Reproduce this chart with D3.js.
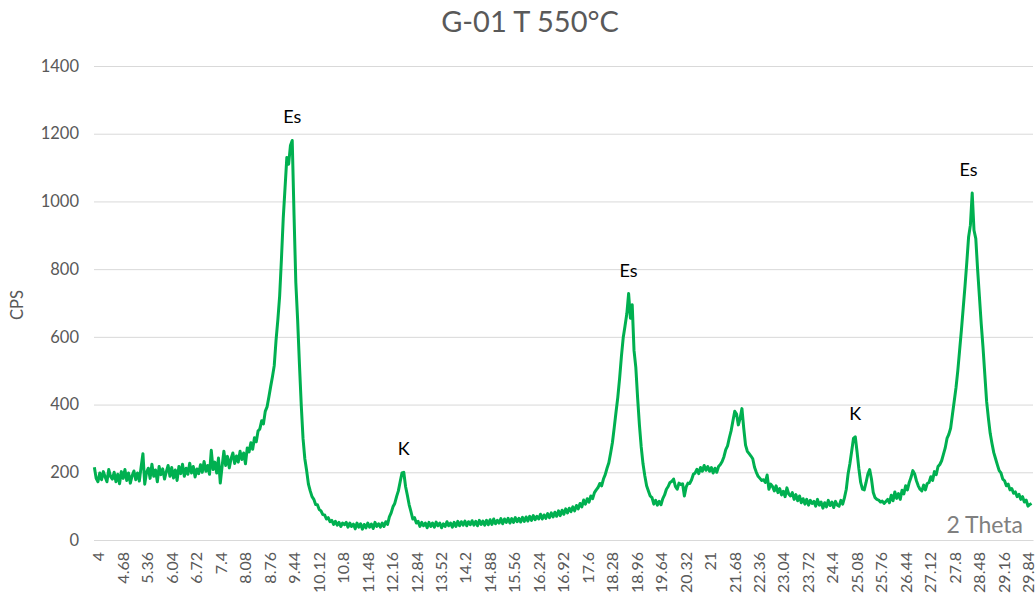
<!DOCTYPE html>
<html>
<head>
<meta charset="utf-8">
<script src="https://cdn.jsdelivr.net/npm/d3@7"></script>
<style>
  html, body { margin: 0; padding: 0; background: #fff; }
  svg { display: block; }
  text { font-family: Lato, "Open Sans", sans-serif; }
</style>
</head>
<body>
<svg id="chart" width="1036" height="599"></svg>
<script>
// Diffraction pattern of sample G-01 fired at 550 °C, sampled every 0.05° 2θ from 4°.
const thetaStart = 4.0;
const thetaStep = 0.05;

const cps = [
  // 4.00 – 4.95
  215,182,172,198,178,202,186,172,208,188,180,200,172,194,166,202,182,208,176,198,
  // 5.00 – 5.95
  168,190,204,178,198,174,216,255,165,200,212,182,224,188,207,172,217,193,210,180,
  // 6.00 – 6.95
  202,220,188,214,183,207,176,217,196,224,188,212,194,227,198,217,186,210,196,222,
  // 7.00 – 7.95
  200,232,203,220,194,265,208,230,198,242,168,217,262,220,247,213,240,257,226,248,
  // 8.00 – 8.95
  230,262,238,257,225,272,260,287,268,302,290,322,328,352,343,380,393,422,453,482,
  // 9.00 – 9.95
  515,590,650,720,830,950,1040,1130,1110,1165,1180,960,760,650,520,400,300,240,205,165,
  // 10.00 – 10.95
  145,128,120,105,104,90,86,75,74,62,66,54,58,46,55,44,52,40,50,45,
  // 11.00 – 11.95
  52,38,50,40,47,33,50,38,48,32,46,36,50,38,47,34,52,40,48,38,
  // 12.00 – 12.95
  50,40,54,46,68,80,98,108,128,145,172,198,200,158,132,104,84,62,66,50,
  // 13.00 – 13.95
  55,40,52,42,50,36,52,40,50,38,53,42,50,36,48,40,54,42,50,38,
  // 14.00 – 14.95
  52,40,55,42,54,44,56,42,54,45,57,44,55,42,58,46,56,44,58,45,
  // 15.00 – 15.95
  60,46,62,48,58,50,63,48,62,52,64,50,63,52,66,54,64,53,67,55,
  // 16.00 – 16.95
  68,56,70,58,72,60,70,62,76,62,74,64,78,66,80,68,82,70,86,72,
  // 17.00 – 17.95
  88,76,92,80,94,84,98,86,102,92,108,98,118,106,122,112,130,122,140,148,
  // 18.00 – 18.95
  155,167,160,180,193,212,228,257,288,332,378,422,478,542,598,632,668,728,655,695,
  // 19.00 – 19.95
  560,510,420,340,275,225,190,160,145,130,125,106,117,103,114,104,122,133,150,158,
  // 20.00 – 20.95
  170,173,180,158,150,168,164,166,130,157,168,167,178,194,198,209,196,214,203,220,
  // 21.00 – 21.95
  206,217,203,214,198,212,200,217,223,232,246,267,278,302,323,352,380,372,340,360,
  // 22.00 – 22.95
  388,330,280,262,255,248,240,215,200,188,182,176,178,170,192,150,165,158,145,160,
  // 23.00 – 23.95
  140,152,133,144,128,154,136,130,140,120,134,116,130,110,122,106,120,103,117,108,
  // 24.00 – 24.95
  114,100,120,103,112,94,110,98,117,102,112,96,114,103,100,117,106,125,150,195,
  // 25.00 – 25.95
  225,262,300,305,260,210,170,150,148,170,195,208,180,140,125,120,118,112,115,108,
  // 26.00 – 26.95
  114,120,110,132,116,142,123,137,120,147,136,160,148,170,185,205,195,175,160,150,
  // 27.00 – 27.95
  145,162,148,167,170,187,176,202,193,217,223,234,253,272,300,312,330,370,410,450,
  // 28.00 – 28.95
  500,560,620,685,750,820,895,930,1025,915,890,800,720,640,570,490,410,360,315,285,
  // 29.00 – 29.95
  258,240,222,205,198,180,175,160,165,148,152,138,142,128,135,120,128,112,118,100,
  // 30.00 – 30.05
  105,108
];

const xTickLabels = ["4","4.68","5.36","6.04","6.72","7.4","8.08","8.76","9.44","10.12",
  "10.8","11.48","12.16","12.84","13.52","14.2","14.88","15.56","16.24","16.92",
  "17.6","18.28","18.96","19.64","20.32","21","21.68","22.36","23.04","23.72",
  "24.4","25.08","25.76","26.44","27.12","27.8","28.48","29.16","29.84"];

const yTickValues = [0, 200, 400, 600, 800, 1000, 1200, 1400];

// Phase markers: Es = main reflections, K = secondary phase
const peakNames = ["Es", "K", "Es", "K", "Es"];
const peakThetas = [9.5, 12.6, 18.85, 25.15, 28.3];

const titleText = "G-01 T 550°C";
const yTitle = "CPS";
const xTitle = "2 Theta";

const points = cps.map((v, i) => ({ theta: thetaStart + i * thetaStep, cps: v }));

const svg = d3.select("#chart");
const plot = { left: 94, right: 1033, top: 66, bottom: 540 };

const x = d3.scaleLinear().domain([3.99, 30.09]).range([plot.left, plot.right]);
const y = d3.scaleLinear().domain([0, 1400]).range([plot.bottom, plot.top]);

// horizontal gridlines
svg.append("g")
  .selectAll("line")
  .data(yTickValues)
  .join("line")
  .attr("x1", plot.left).attr("x2", plot.right)
  .attr("y1", d => y(d) + 0.5).attr("y2", d => y(d) + 0.5)
  .attr("stroke", "#d9d9d9").attr("stroke-width", 1);

// y axis labels
const yAxis = d3.axisLeft(y).tickValues(yTickValues).tickFormat(d3.format("d"))
  .tickSize(0).tickPadding(15);
const gy = svg.append("g").attr("transform", `translate(${plot.left},0)`).call(yAxis);
gy.select(".domain").remove();
gy.selectAll("text")
  .attr("fill", "#595959")
  .style("font-size", "16.5px")
  .style("font-family", "Lato, 'Open Sans', sans-serif");

// x axis: category labels rotated
const xAxis = d3.axisBottom(x).tickValues(xTickLabels.map(Number))
  .tickFormat((d, i) => xTickLabels[i]).tickSize(0);
const gx = svg.append("g").attr("transform", `translate(0,${plot.bottom})`).call(xAxis);
gx.select(".domain").attr("stroke", "#d9d9d9");
gx.selectAll("text")
  .attr("fill", "#595959")
  .style("font-size", "16px")
  .style("font-family", "Lato, 'Open Sans', sans-serif")
  .attr("text-anchor", "end")
  .attr("transform", "translate(4,12) rotate(-90)")
  .attr("x", 0).attr("y", 0).attr("dy", "0.35em");

// spectrum line
const line = d3.line().x(d => x(d.theta)).y(d => y(d.cps)).curve(d3.curveLinear);
svg.append("path")
  .datum(points)
  .attr("d", line)
  .attr("fill", "none")
  .attr("stroke", "#00b050")
  .attr("stroke-width", 3)
  .attr("stroke-linejoin", "round");

// phase labels above the local maxima
peakNames.forEach((name, i) => {
  const t = peakThetas[i];
  const near = points.filter(p => Math.abs(p.theta - t) <= 0.2);
  const top = d3.max(near, p => p.cps);
  svg.append("text")
    .attr("x", x(t))
    .attr("y", y(top) - 17)
    .attr("text-anchor", "middle")
    .attr("fill", "#000")
    .style("font-size", "18px")
    .text(name);
});

// titles
svg.append("text")
  .attr("x", 530).attr("y", 32)
  .attr("text-anchor", "middle")
  .attr("fill", "#595959")
  .style("font-size", "29px")
  .text(titleText);

svg.append("text")
  .attr("transform", `translate(23,${(plot.top + plot.bottom) / 2 + 2}) rotate(-90)`)
  .attr("text-anchor", "middle")
  .attr("fill", "#595959")
  .style("font-size", "16.5px")
  .text(yTitle);

svg.append("text")
  .attr("x", 1023).attr("y", 533)
  .attr("text-anchor", "end")
  .attr("fill", "#808080")
  .style("font-size", "23px")
  .text(xTitle);
</script>
</body>
</html>
